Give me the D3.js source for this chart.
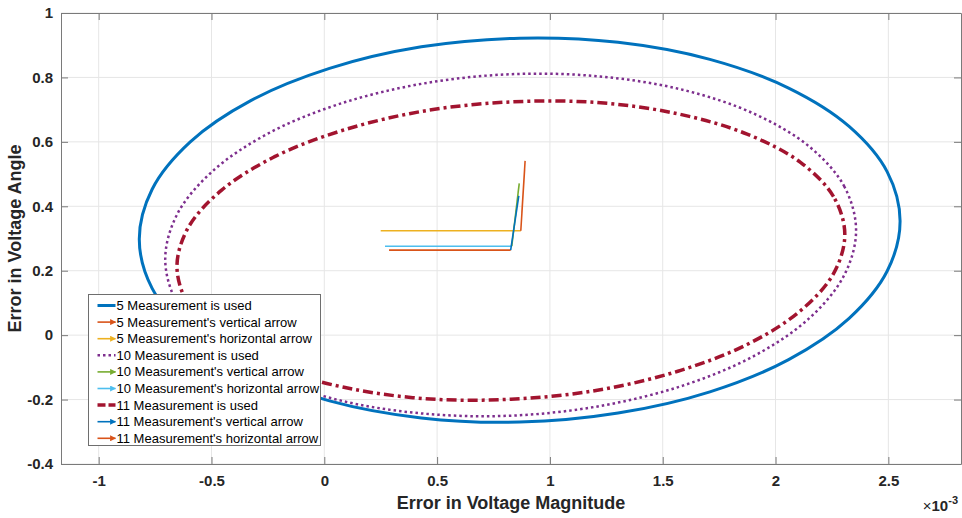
<!DOCTYPE html>
<html>
<head>
<meta charset="utf-8">
<script src="https://cdn.jsdelivr.net/npm/d3@7"></script>
<style>
  body { margin: 0; background: #fff; }
  svg { display: block; font-family: "Liberation Sans", Arial, sans-serif; }
</style>
</head>
<body>
<svg id="chart" width="962" height="518"></svg>
<script>
// tick values (x in units of 1e-3)
var xTicks = [-1, -0.5, 0, 0.5, 1, 1.5, 2, 2.5];
var yTicks = [-0.4, -0.2, 0, 0.2, 0.4, 0.6, 0.8, 1];

// ellipse outlines (x in 1e-3)
var ell5X = [2.552, 2.495, 2.326, 2.058, 1.709, 1.302, 0.866, 0.430, 0.023, -0.326, -0.594, -0.763,
             -0.820, -0.763, -0.594, -0.326, 0.023, 0.430, 0.866, 1.302, 1.709, 2.058, 2.326, 2.495];
var ell5Y = [0.354, 0.507, 0.648, 0.767, 0.856, 0.909, 0.922, 0.895, 0.828, 0.728, 0.600, 0.453,
             0.298, 0.145, 0.004, -0.115, -0.204, -0.257, -0.270, -0.242, -0.176, -0.076, 0.052, 0.199];

var ell10X = [2.357, 2.305, 2.152, 1.909, 1.592, 1.222, 0.826, 0.430, 0.060, -0.257, -0.500, -0.653,
              -0.705, -0.653, -0.500, -0.257, 0.060, 0.430, 0.826, 1.222, 1.592, 1.909, 2.152, 2.305];
var ell10Y = [0.325, 0.461, 0.584, 0.686, 0.761, 0.803, 0.810, 0.780, 0.716, 0.623, 0.506, 0.374,
              0.235, 0.100, -0.024, -0.126, -0.201, -0.243, -0.250, -0.220, -0.156, -0.063, 0.054, 0.187];

var ell11X = [2.307, 2.257, 2.109, 1.874, 1.567, 1.210, 0.827, 0.444, 0.087, -0.220, -0.455, -0.603,
              -0.653, -0.603, -0.455, -0.220, 0.087, 0.444, 0.827, 1.210, 1.567, 1.874, 2.109, 2.257];
var ell11Y = [0.313, 0.430, 0.537, 0.624, 0.687, 0.722, 0.724, 0.696, 0.637, 0.554, 0.450, 0.334,
              0.213, 0.095, -0.012, -0.099, -0.162, -0.197, -0.199, -0.171, -0.112, -0.029, 0.075, 0.191];

// arrows for 5, 10, 11 measurements
var arrowNames = ['5', '10', '11'];
var hStartX = [0.250, 0.269, 0.287];
var cornerX = [0.871, 0.831, 0.826];
var cornerY = [0.324, 0.276, 0.264];
var vTipX = [0.890, 0.864, 0.862];
var vTipY = [0.541, 0.471, 0.432];

var legendNames = [
  '5 Measurement is used', "5 Measurement's vertical arrow", "5 Measurement's horizontal arrow",
  '10 Measurement is used', "10 Measurement's vertical arrow", "10 Measurement's horizontal arrow",
  '11 Measurement is used', "11 Measurement's vertical arrow", "11 Measurement's horizontal arrow"
];

var ellStyle = [
  { x: ell5X, y: ell5Y, color: '#0072BD', width: 3, dash: null },
  { x: ell10X, y: ell10Y, color: '#7E2F8E', width: 2.5, dash: '2.5,3' },
  { x: ell11X, y: ell11Y, color: '#A2142F', width: 3.5, dash: '10,4,3,4' }
];
var vColors = ['#D95319', '#77AC30', '#0072BD'];
var hColors = ['#EDB120', '#4DBEEE', '#D95319'];

var mLeft = 61, mRight = 961, mTop = 13, mBottom = 464;
var svg = d3.select('#chart');

var x = d3.scaleLinear().domain([-1.167, 2.822]).range([mLeft, mRight]);
var y = d3.scaleLinear().domain([-0.4, 1]).range([mBottom, mTop]);

// grid
var grid = svg.append('g');
grid.selectAll('.gx').data(xTicks).enter().append('line')
  .attr('x1', function(d){ return x(d); }).attr('x2', function(d){ return x(d); })
  .attr('y1', mTop).attr('y2', mBottom)
  .attr('stroke', '#e6e6e6').attr('stroke-width', 1);
grid.selectAll('.gy').data(yTicks).enter().append('line')
  .attr('y1', function(d){ return y(d); }).attr('y2', function(d){ return y(d); })
  .attr('x1', mLeft).attr('x2', mRight)
  .attr('stroke', '#e6e6e6').attr('stroke-width', 1);

// ellipses
var line = d3.line()
  .x(function(d){ return x(d[0]); })
  .y(function(d){ return y(d[1]); })
  .curve(d3.curveCatmullRomClosed);

ellStyle.forEach(function(s){
  var pts = s.x.map(function(v, i){ return [v, s.y[i]]; });
  svg.append('path')
    .attr('d', line(pts))
    .attr('fill', 'none')
    .attr('stroke', s.color)
    .attr('stroke-width', s.width)
    .attr('stroke-dasharray', s.dash);
});

// arrows
arrowNames.forEach(function(n, i){
  svg.append('line')
    .attr('x1', x(hStartX[i])).attr('y1', y(cornerY[i]))
    .attr('x2', x(cornerX[i])).attr('y2', y(cornerY[i]))
    .attr('stroke', hColors[i]).attr('stroke-width', 1.6);
  svg.append('line')
    .attr('x1', x(cornerX[i])).attr('y1', y(cornerY[i]))
    .attr('x2', x(vTipX[i])).attr('y2', y(vTipY[i]))
    .attr('stroke', vColors[i]).attr('stroke-width', 1.6);
});

// axes
var axColor = '#7a7a7a';
var gx = svg.append('g').attr('transform', 'translate(0,' + mBottom + ')')
  .call(d3.axisBottom(x).tickValues(xTicks).tickSizeInner(-7).tickSizeOuter(0).tickPadding(11)
    .tickFormat(function(d){ return String(d); }));
var gxt = svg.append('g').attr('transform', 'translate(0,' + mTop + ')')
  .call(d3.axisTop(x).tickValues(xTicks).tickSizeInner(-7).tickSizeOuter(0).tickFormat(''));
var gy = svg.append('g').attr('transform', 'translate(' + mLeft + ',0)')
  .call(d3.axisLeft(y).tickValues(yTicks).tickSizeInner(-7).tickSizeOuter(0).tickPadding(8)
    .tickFormat(function(d){ return String(d); }));
var gyr = svg.append('g').attr('transform', 'translate(' + mRight + ',0)')
  .call(d3.axisRight(y).tickValues(yTicks).tickSizeInner(-7).tickSizeOuter(0).tickFormat(''));

[gx, gxt, gy, gyr].forEach(function(g){
  g.selectAll('path').attr('stroke', axColor);
  g.selectAll('line').attr('stroke', axColor);
  g.selectAll('text').attr('fill', '#262626')
    .style('font-family', '"Liberation Sans", Arial, sans-serif')
    .style('font-size', '15px').style('font-weight', 'bold');
});

// axis titles
svg.append('text')
  .attr('x', (mLeft + mRight) / 2).attr('y', 509)
  .attr('text-anchor', 'middle')
  .style('font-size', '18px').style('font-weight', 'bold').attr('fill', '#262626')
  .text('Error in Voltage Magnitude');
svg.append('text')
  .attr('transform', 'translate(21,' + (mTop + mBottom) / 2 + ') rotate(-90)')
  .attr('text-anchor', 'middle')
  .style('font-size', '18px').style('font-weight', 'bold').attr('fill', '#262626')
  .text('Error in Voltage Angle');

var expo = svg.append('text')
  .attr('x', 958).attr('y', 511).attr('text-anchor', 'end')
  .style('font-size', '15px').style('font-weight', 'bold').attr('fill', '#262626');
expo.append('tspan').style('font-weight', 'normal').text('\u00d7');
expo.append('tspan').text('10');
expo.append('tspan').attr('dy', -7).style('font-size', '11px').text('-3');

// legend
var defs = svg.append('defs');
var legColors = ['#0072BD', '#D95319', '#EDB120', '#7E2F8E', '#77AC30', '#4DBEEE', '#A2142F', '#0072BD', '#D95319'];
legColors.forEach(function(c, i){
  defs.append('marker')
    .attr('id', 'ah' + i)
    .attr('viewBox', '0 0 10 10').attr('refX', 9).attr('refY', 5)
    .attr('markerWidth', 6).attr('markerHeight', 6)
    .attr('markerUnits', 'userSpaceOnUse')
    .attr('orient', 'auto')
    .append('path').attr('d', 'M0,0 L10,5 L0,10 z').attr('fill', c);
});

var legX = 88.5, legY = 294.5, rowH = 16.6;
var leg = svg.append('g');
leg.append('rect')
  .attr('x', legX).attr('y', legY).attr('width', 232).attr('height', 151)
  .attr('fill', '#fff').attr('stroke', '#6e6e6e').attr('stroke-width', 1);

var rows = leg.selectAll('.row').data(legendNames).enter().append('g')
  .attr('transform', function(d, i){ return 'translate(' + legX + ',' + (legY + 11 + i * rowH) + ')'; });

rows.each(function(d, i){
  var g = d3.select(this);
  var isEll = (i % 3 === 0);
  var s = ellStyle[i / 3 | 0];
  var ln = g.append('line')
    .attr('x1', 9).attr('x2', 27).attr('y1', 0).attr('y2', 0)
    .attr('stroke', legColors[i]);
  if (isEll) {
    ln.attr('stroke-width', s.width).attr('stroke-dasharray', i === 6 ? '8,3' : s.dash);
  } else {
    ln.attr('stroke-width', 1.6).attr('marker-end', 'url(#ah' + i + ')');
  }
  g.append('text')
    .attr('x', 28).attr('y', 0).attr('dy', '0.35em')
    .style('font-size', '13px').attr('fill', '#000')
    .text(d);
});
</script>
</body>
</html>
